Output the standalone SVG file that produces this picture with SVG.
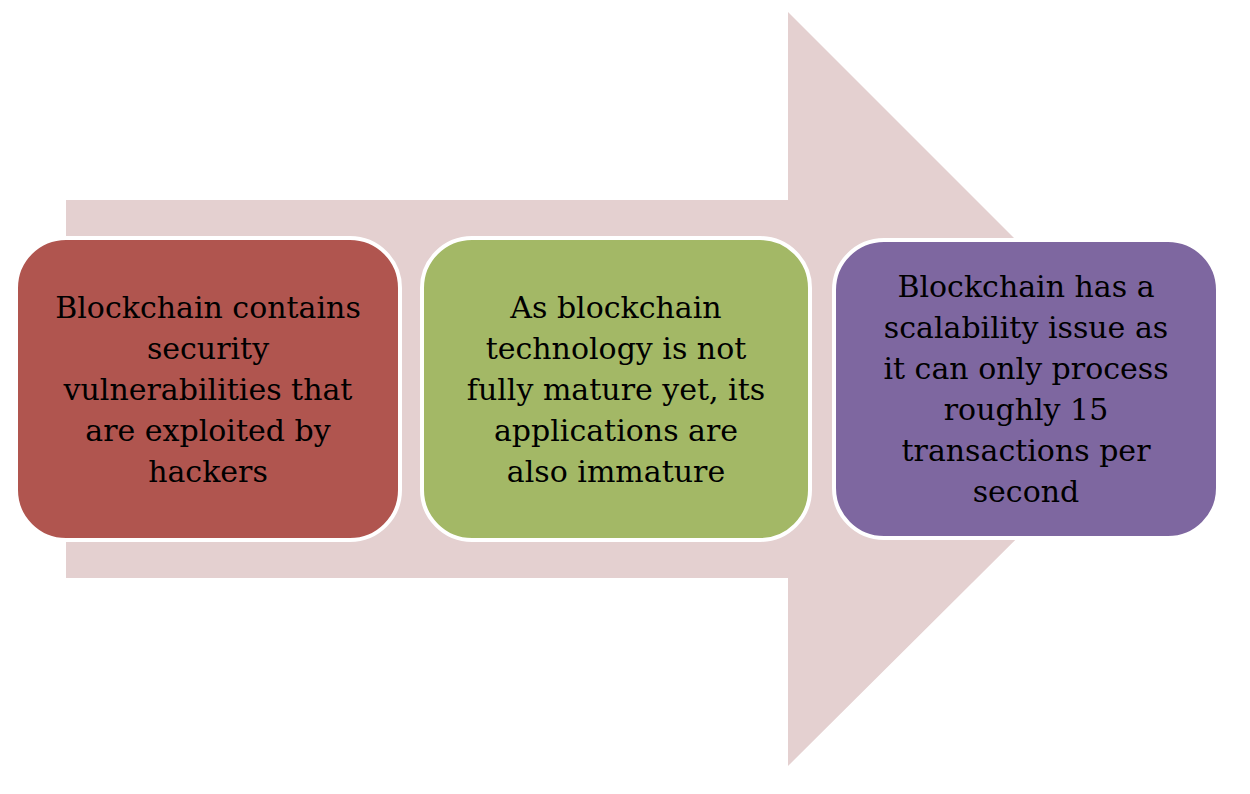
<svg xmlns="http://www.w3.org/2000/svg" width="1250" height="794" viewBox="0 0 1250 794">
<style>
.t{font-family:"DejaVu Serif","Liberation Serif",serif;font-size:30px;fill:#000;text-anchor:middle}
.b{stroke:#fff;stroke-width:4}
</style>
<rect width="1250" height="794" fill="#fff"/>
<g id="arrow"><polygon points="66,200 788,200 788,12 1166,390 788,766 788,578 66,578" fill="#e4d0d0"/></g>
<g id="n1"><rect class="b" x="16" y="238" width="384" height="302" rx="50" fill="#b0554f"/>
<text class="t"><tspan x="208" y="318">Blockchain contains</tspan><tspan x="208" y="359">security</tspan><tspan x="208" y="400">vulnerabilities that</tspan><tspan x="208" y="441">are exploited by</tspan><tspan x="208" y="482">hackers</tspan></text></g>
<g id="n2"><rect class="b" x="422" y="238" width="388" height="302" rx="50" fill="#a3b866"/>
<text class="t"><tspan x="616" y="318">As blockchain</tspan><tspan x="616" y="359">technology is not</tspan><tspan x="616" y="400">fully mature yet, its</tspan><tspan x="616" y="441">applications are</tspan><tspan x="616" y="482">also immature</tspan></text></g>
<g id="n3"><rect class="b" x="834" y="240" width="384" height="298" rx="50" fill="#7e67a0"/>
<text class="t"><tspan x="1026" y="297">Blockchain has a</tspan><tspan x="1026" y="338">scalability issue as</tspan><tspan x="1026" y="379">it can only process</tspan><tspan x="1026" y="420">roughly 15</tspan><tspan x="1026" y="461">transactions per</tspan><tspan x="1026" y="502">second</tspan></text></g>
<g id="connectors"/>
</svg>
